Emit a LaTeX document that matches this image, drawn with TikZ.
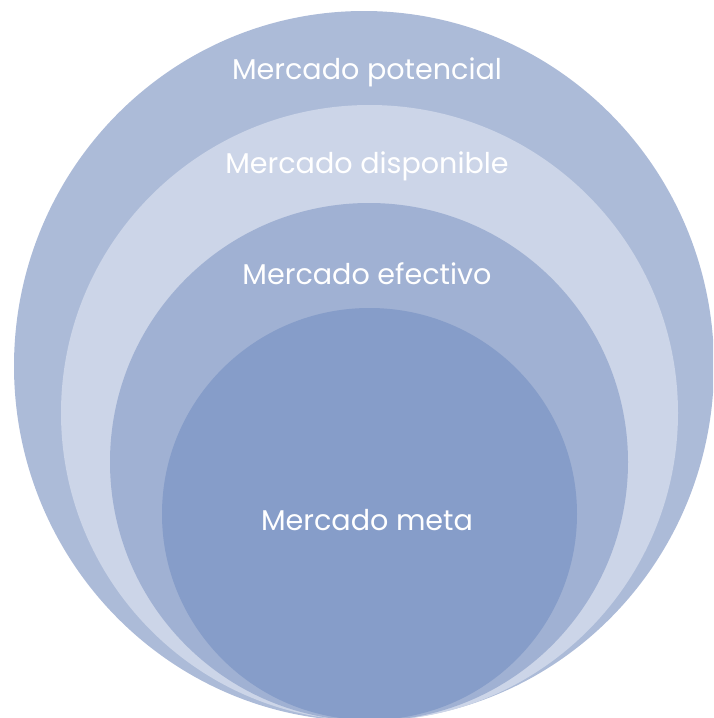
\documentclass[tikz,border=0pt]{standalone}
\usepackage{fontspec}
\setmainfont{Poppins}
\definecolor{potencial}{RGB}{172,187,216}
\definecolor{disponible}{RGB}{204,213,232}
\definecolor{efectivo}{RGB}{160,177,211}
\definecolor{meta}{RGB}{134,157,201}
\tikzset{
  ring/.style={draw=none},
  label/.style={text=white,font=\fontsize{14.3}{17}\selectfont}
}
\begin{document}
\begin{tikzpicture}[x=0.5pt,y=-0.5pt]
      \useasboundingbox (0,0) rectangle (713,718);
      \clip (0,0) rectangle (713,718);
      \begin{scope}[ring]
        \fill[potencial] (364,366) ellipse [x radius=350,y radius=355];
        \fill[disponible] (369.5,413) ellipse [x radius=308.5,y radius=308];
        \fill[efectivo] (369,462) ellipse [x radius=259,y radius=259];
        \fill[meta] (369.5,514) ellipse [x radius=207.5,y radius=206];
      \end{scope}
      \draw
        (367,72) node[label] (pot){Mercado potencial}
        (367,166) node[label] (disp){Mercado disponible}
        (367,274) node[label] (efec){Mercado efectivo}
        (367,520) node[label] (met){Mercado meta};
    \end{tikzpicture}
\end{document}
